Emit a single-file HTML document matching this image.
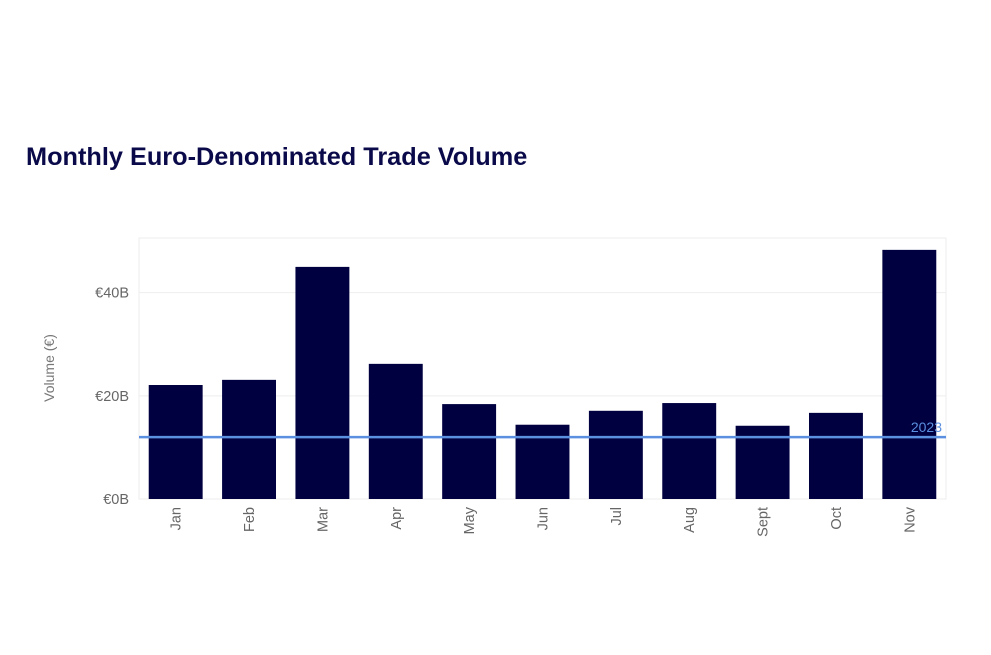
<!DOCTYPE html>
<html><head><meta charset="utf-8">
<style>
html,body{margin:0;padding:0;background:#fff;width:991px;height:655px;overflow:hidden}
svg{display:block}
</style></head>
<body>
<svg id="chart" width="991" height="655" viewBox="0 0 991 655" xmlns="http://www.w3.org/2000/svg">
<text x="26" y="165" font-family="Liberation Sans, sans-serif" font-weight="bold" font-size="25.3" fill="#0a0a4a">Monthly Euro-Denominated Trade Volume</text>
<g id="grid"></g>
<g id="bars"></g>
<g id="axes"></g>
<text transform="translate(54,368) rotate(-90)" text-anchor="middle" font-family="Liberation Sans, sans-serif" font-size="14" fill="#777">Volume (€)</text>
</svg>
<script>
const categories = ["Jan","Feb","Mar","Apr","May","Jun","Jul","Aug","Sept","Oct","Nov"];
const volumes = [22.1, 23.1, 45.0, 26.2, 18.4, 14.4, 17.1, 18.6, 14.2, 16.7, 48.3];
const yTicks = [0, 20, 40];
const yTickLabels = ["€0B","€20B","€40B"];
const refValue = 12.0;
const refLabel = "2023";

const NS = "http://www.w3.org/2000/svg";
const plotLeft = 139, plotRight = 946, plotTop = 238, plotBottom = 499, yMax = 50.6;
const band = (plotRight - plotLeft) / categories.length;
const xPos = i => plotLeft + band * i;
const yPos = v => plotBottom - (v / yMax) * (plotBottom - plotTop);
function mk(tag, attrs, parent){const e=document.createElementNS(NS,tag);for(const k in attrs)e.setAttribute(k,attrs[k]);parent.appendChild(e);return e;}
const gridG=document.getElementById('grid'), barsG=document.getElementById('bars'), axesG=document.getElementById('axes');

const frame = mk('rect',{x:plotLeft,y:plotTop,width:plotRight-plotLeft,height:plotBottom-plotTop,fill:'none',stroke:'#eee','stroke-width':1},gridG);


yTicks.forEach((t,i)=>{
  const g = mk('line',{x1:plotLeft,x2:plotRight,y1:yPos(t),y2:yPos(t),stroke:'#eee','stroke-width':1},gridG);
  
  
  const l = mk('text',{x:plotLeft-10,y:yPos(t)+5,'text-anchor':'end','font-family':'Liberation Sans, sans-serif','font-size':14.5,fill:'#666'},axesG);
  l.textContent = yTickLabels[i];
  
  
});
categories.forEach((c,i)=>{
  const bw = band*0.735;
  const r = mk('rect',{x:xPos(i)+(band-bw)/2,y:yPos(volumes[i]),width:bw,height:plotBottom-yPos(volumes[i]),fill:'#000040'},barsG);
  
  
  const cx = xPos(i)+band/2;
  const t = mk('text',{transform:`translate(${cx+5},${plotBottom+8}) rotate(-90)`,'text-anchor':'end','font-family':'Liberation Sans, sans-serif','font-size':14.5,fill:'#666'},axesG);
  t.textContent = c;
  
  
});
const ref = mk('line',{x1:plotLeft,x2:plotRight,y1:yPos(refValue),y2:yPos(refValue),stroke:'#5b8fe0','stroke-width':2.5},barsG);


const rl = mk('text',{x:plotRight-4,y:yPos(refValue)-5,'text-anchor':'end','font-family':'Liberation Sans, sans-serif','font-size':14,fill:'#5b8fe0'},barsG);
rl.textContent = refLabel;


</script>
</body></html>
